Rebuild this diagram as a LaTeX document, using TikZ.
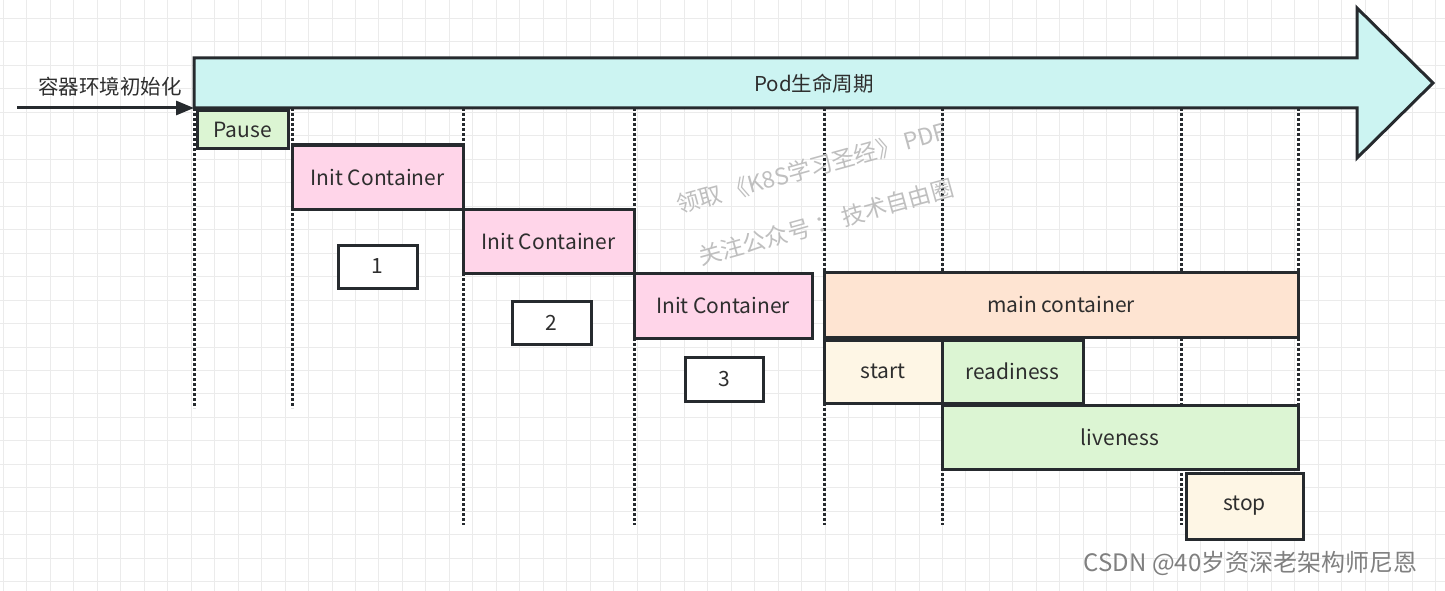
\documentclass[tikz,border=0pt]{standalone}
\usepackage{fontspec}
\setmainfont{Noto Sans CJK SC}
\usetikzlibrary{arrows.meta}
\definecolor{linedark}{HTML}{262A2E}
\definecolor{textdark}{HTML}{2E2E2E}
\definecolor{gridgray}{HTML}{EBEBEB}
\definecolor{podcyan}{HTML}{CCF4F2}
\definecolor{probegreen}{HTML}{DCF5D3}
\definecolor{initpink}{HTML}{FFD5E9}
\definecolor{mainpeach}{HTML}{FEE4D2}
\definecolor{hookcream}{HTML}{FEF6E5}

\begin{document}
\begin{tikzpicture}[x=1pt,y=-1pt,
        phase/.style={draw=linedark, line width=3pt, text=textdark,
            font=\fontsize{21}{24}\selectfont, inner sep=0pt},
        guide/.style={draw=linedark, line width=3pt, dash pattern=on 3pt off 2pt},
        gridline/.style={draw=gridgray, line width=1pt},
        mark text/.style={text=black!25, font=\fontsize{23}{26}\selectfont, rotate=15.5}]
        \useasboundingbox (0,0) rectangle (1445,591);
        \fill[white] (0,0) rectangle (1445,591);
        % background grid
        \foreach \i in {0,...,61}
            \draw[gridline] (3.3+\i*23.48,0) -- (3.3+\i*23.48,591);
        \foreach \j in {0,...,24}
            \draw[gridline] (0,18.3+\j*23.48) -- (1445,18.3+\j*23.48);
        % time marks
        \foreach \x/\y in {194/408, 292/408, 463/525, 634/525, 824/525, 942/525, 1181/525, 1298/470}
            \draw[guide] (\x,108) -- (\x,\y);
        % pod lifetime
        \draw[draw=linedark, line width=3pt, fill=podcyan, line join=miter]
            (194,58) -- (1357,58) -- (1357,8) -- (1433,83) -- (1357,158) -- (1357,108) -- (194,108) -- cycle;
        \node[text=textdark, font=\fontsize{20.5}{23}\selectfont] (pod) at (814,84) {Pod生命周期};
        \coordinate (podstart) at (194,108);
        \coordinate (envstart) at (17,108);
        \draw[draw=linedark, line width=3pt, -{Triangle[length=18pt,width=14pt]}] (envstart) -- (podstart);
        \node[text=textdark, font=\fontsize{20.5}{23}\selectfont] (env) at (110,87) {容器环境初始化};
        % phases
        \node[phase, fill=probegreen, minimum width=91, minimum height=37] (pause) at (242.5,129.5) {Pause};
        \node[phase, fill=initpink, minimum width=171, minimum height=64] (init1) at (377.5,177) {Init Container};
        \node[phase, fill=white, minimum width=79, minimum height=43] (num1) at (377.5,266.5) {1};
        \node[phase, fill=initpink, minimum width=171, minimum height=64] (init2) at (548.5,241) {Init Container};
        \node[phase, fill=white, minimum width=79, minimum height=43] (num2) at (551.5,322.5) {2};
        \node[phase, fill=initpink, minimum width=178, minimum height=65] (init3) at (723,305.5) {Init Container};
        \node[phase, fill=white, minimum width=78, minimum height=44] (num3) at (724,379) {3};
        \node[phase, fill=mainpeach, minimum width=474, minimum height=65] (main) at (1061,304.5) {main container};
        \node[phase, fill=hookcream, minimum width=118, minimum height=63] (start) at (883,371.5) {start};
        \node[phase, fill=probegreen, minimum width=141, minimum height=63] (ready) at (1012.5,371.5) {readiness};
        \node[phase, fill=probegreen, minimum width=356, minimum height=64] (live) at (1120,437) {liveness};
        \node[phase, fill=hookcream, minimum width=117, minimum height=66] (stop) at (1244.5,506) {stop};
        % watermarks
        \node[mark text] (wm1) at (811,168) {领取 《K8S学习圣经》 PDF};
        \node[mark text] (wm2) at (826,222) {关注公众号 ： 技术自由圈};
        \node[anchor=east, text=black!50, font=\fontsize{24}{26}\selectfont] (csdn) at (1421,563) {CSDN @40岁资深老架构师尼恩};
\end{tikzpicture}
\end{document}
